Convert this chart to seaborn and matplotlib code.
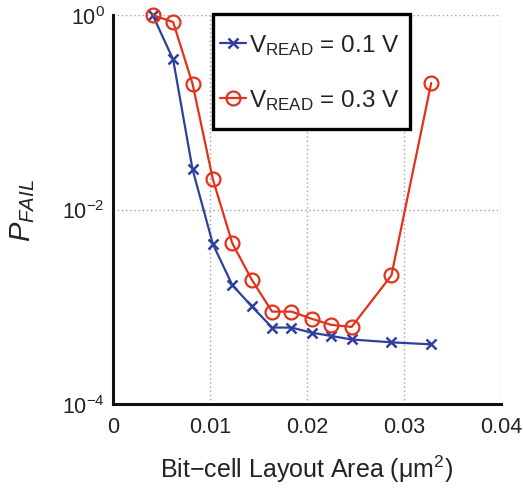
import matplotlib
matplotlib.use("Agg")
import matplotlib.pyplot as plt
from matplotlib.patches import Rectangle
import seaborn as sns
import pandas as pd
import numpy as np

area = [0.0041, 0.0062, 0.0082, 0.0103, 0.0123, 0.0143, 0.0164, 0.0184, 0.0205, 0.0225, 0.0246, 0.0287, 0.0328]
pfail_01 = [1.0, 0.35, 0.026, 0.0044, 0.00167, 0.00101, 6.1e-4, 6.1e-4, 5.4e-4, 5.0e-4, 4.6e-4, 4.3e-4, 4.1e-4]
pfail_03 = [1.0, 0.85, 0.197, 0.0204, 0.0045, 0.0019, 8.9e-4, 8.9e-4, 7.5e-4, 6.5e-4, 6.2e-4, 0.0021, 0.2]
labels = [r"V$_{\mathregular{READ}}$ = 0.1 V", r"V$_{\mathregular{READ}}$ = 0.3 V"]
xticks = [0, 0.01, 0.02, 0.03, 0.04]
xticklabels = ["0", "0.01", "0.02", "0.03", "0.04"]
yticks = [1e-4, 1e-2, 1e0]
yticklabels = [r"$\mathregular{10^{-4}}$", r"$\mathregular{10^{-2}}$", r"$\mathregular{10^{0}}$"]

sns.set_style("white")
plt.rcParams["font.family"] = ["Liberation Sans", "DejaVu Sans"]
plt.rcParams["mathtext.fontset"] = "custom"
plt.rcParams["mathtext.rm"] = "Liberation Sans"
plt.rcParams["mathtext.it"] = "Liberation Sans:italic"

blue = "#2f3f9f"
red = "#e2321c"
txt = "#222222"

df1 = pd.DataFrame({"area": area, "pfail": pfail_01})
df3 = pd.DataFrame({"area": area, "pfail": pfail_03})

fig = plt.figure(figsize=(5.23, 4.89), dpi=100)
ax = fig.add_axes([0.216, 0.172, 0.742, 0.795])

sns.lineplot(data=df1, x="area", y="pfail", ax=ax, color=blue, marker="x",
             markersize=7, markeredgewidth=1.8, markeredgecolor=blue,
             linewidth=1.6, label=labels[0], clip_on=False, zorder=3)
sns.lineplot(data=df3, x="area", y="pfail", ax=ax, color=red, marker="o",
             markersize=10, markerfacecolor="none", markeredgecolor=red,
             markeredgewidth=1.6, linewidth=1.6, label=labels[1], clip_on=False, zorder=3)

ax.set_yscale("log")
ax.set_xlim(0, 0.04)
ax.set_ylim(1e-4, 1e0)
ax.set_xticks(xticks)
ax.set_xticklabels(xticklabels)
ax.set_yticks(yticks)
ax.set_yticklabels(yticklabels)
ax.minorticks_off()
ax.tick_params(axis="both", which="major", direction="in", length=4, width=1,
               labelsize=15.5, colors="black")
ax.tick_params(axis="x", pad=9)
ax.tick_params(axis="y", pad=6)
for lab in ax.get_xticklabels() + ax.get_yticklabels():
    lab.set_color(txt)

ax.grid(True, which="major", linestyle=(0, (1, 2)), color="#a0a0a0", linewidth=1)
for s in ["top", "right"]:
    ax.spines[s].set_visible(False)
for s in ["left", "bottom"]:
    ax.spines[s].set_visible(True)
    ax.spines[s].set_linewidth(2.2)
    ax.spines[s].set_color("#111111")

ax.set_xlabel(r"Bit$-$cell Layout Area ($\mathregular{\mu m^2}$)", fontsize=18, color=txt, labelpad=11)
ax.set_ylabel(r"$P_{FAIL}$", fontsize=21, color=txt, labelpad=18)

# legend frame
rect = Rectangle((0.258, 0.707), 0.507, 0.296, transform=ax.transAxes,
                 facecolor="white", edgecolor="black", linewidth=2.4,
                 zorder=5, clip_on=False)
ax.add_patch(rect)
leg = ax.legend(loc="center left", bbox_to_anchor=(0.276, 0.853), fontsize=17.5,
                frameon=False, handlelength=1.05, handletextpad=0.15,
                borderpad=0, labelspacing=1.25, borderaxespad=0)
leg.set_zorder(6)
for t in leg.get_texts():
    t.set_color(txt)

fig.savefig("out.png", dpi=100)
